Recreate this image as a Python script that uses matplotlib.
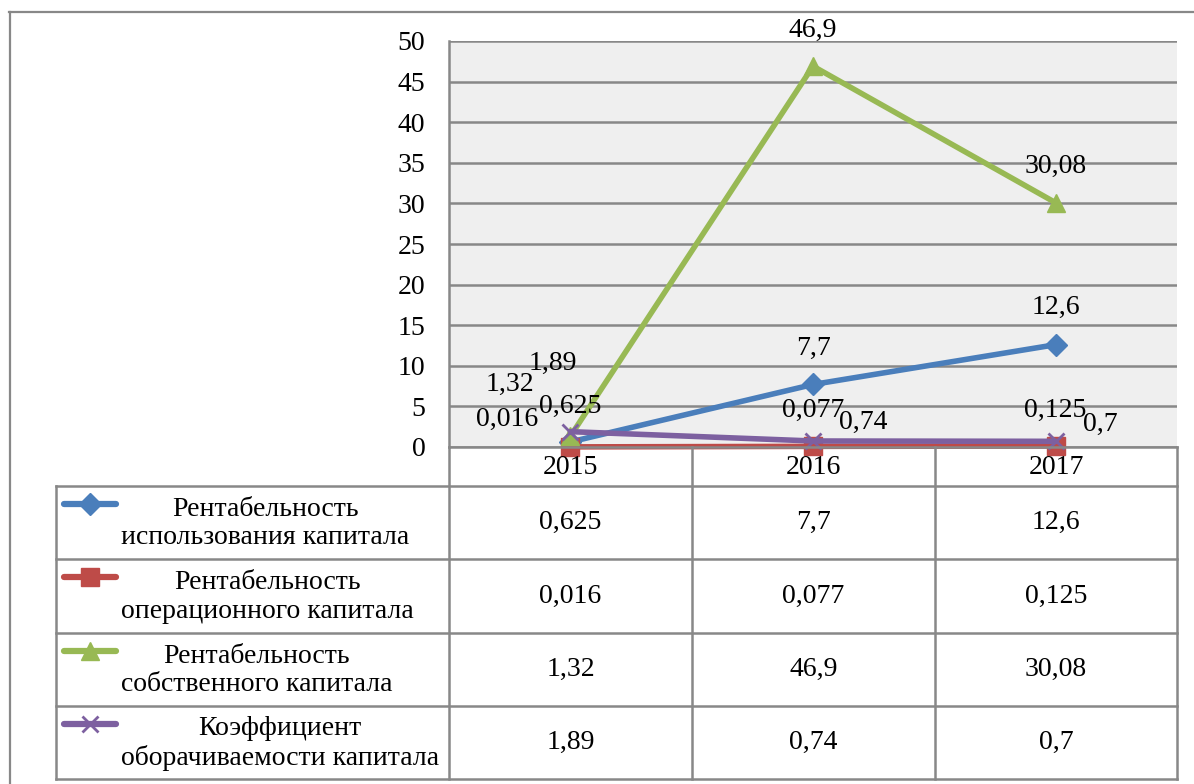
import matplotlib

matplotlib.use("Agg")
import matplotlib.pyplot as plt
from matplotlib.lines import Line2D

plt.rcParams["font.family"] = ["Liberation Serif", "DejaVu Serif"]

# ── data ────────────────────────────────────────────────────────────────
years = ["2015", "2016", "2017"]
roce = [0.625, 7.7, 12.6]          # Рентабельность использования капитала
rooc = [0.016, 0.077, 0.125]       # Рентабельность операционного капитала
roe = [1.32, 46.9, 30.08]          # Рентабельность собственного капитала
turnover = [1.89, 0.74, 0.7]       # Коэффициент оборачиваемости капитала

series_names = [
    "Рентабельность\nиспользования капитала",
    "Рентабельность\nоперационного капитала",
    "Рентабельность\nсобственного капитала",
    "Коэффициент\nоборачиваемости капитала",
]
series_vals = [roce, rooc, roe, turnover]
colors = ["#4a7ebb", "#be4b48", "#98b954", "#7d60a0"]
markers = ["D", "s", "^", "x"]
msizes = [11, 13, 13, 12]

# label offsets (pixels) per series / point, mimicking the Excel placement
label_off = [
    [(0, 36), (0, 36), (0, 37)],
    [(-63, 27), (0, 36), (0, 36)],
    [(-60, 52), (0, 36), (0, 36)],
    [(-17, 68), (50, 19), (45, 17)],
]

W, H = 1194, 784
FS = 20
GRID = "#888888"


def fx(px):
    return px / W


def fy(py):
    return 1 - py / H


def fmt(v):
    return f"{v:g}".replace(".", ",")


fig = plt.figure(figsize=(W / 100, H / 100), dpi=100)

# plot area
left, right, top, bottom = 449, 1177, 41, 447
ax = fig.add_axes([fx(left), fy(bottom), fx(right - left), (bottom - top) / H])
ax.set_facecolor("#efefef")
ax.set_xlim(-0.5, 2.5)
ax.set_ylim(0, 50)
ax.set_yticks(range(0, 51, 5))
ax.set_xticks([])
ax.yaxis.grid(True, color=GRID, lw=1.8)
ax.set_axisbelow(True)
for s in ["top", "right"]:
    ax.spines[s].set_visible(False)
ax.spines["left"].set_color(GRID)
ax.spines["left"].set_linewidth(1.8)
ax.spines["bottom"].set_color(GRID)
ax.spines["bottom"].set_linewidth(1.8)
ax.tick_params(axis="y", length=0, pad=17, labelsize=FS)

x = list(range(len(years)))
for vals, c, m, ms, offs in zip(series_vals, colors, markers, msizes, label_off):
    ax.plot(x, vals, color=c, lw=4, marker=m, ms=ms, mec=c, mfc=c,
            mew=2 if m == "x" else 1, solid_capstyle="round", clip_on=False)
    for xi, v, (dx, dy) in zip(x, vals, offs):
        ax.annotate(fmt(v), (xi, v), xytext=(dx * 0.72, dy * 0.72),
                    textcoords="offset points", ha="center", va="center",
                    fontsize=FS, annotation_clip=False)

# ── data table ──────────────────────────────────────────────────────────
col_edges = [449, 692, 935, 1177]
row_edges = [486, 559, 633, 706, 779]
leg_left = 56


def hline(y, x0, x1, lw=1.8):
    fig.add_artist(Line2D([fx(x0), fx(x1)], [fy(y), fy(y)], color=GRID, lw=lw))


def vline(x_, y0, y1, lw=1.8):
    fig.add_artist(Line2D([fx(x_), fx(x_)], [fy(y0), fy(y1)], color=GRID, lw=lw))


# header row with the years
for xe in col_edges:
    vline(xe, bottom, row_edges[-1])
for y_ in row_edges:
    hline(y_, leg_left, col_edges[-1])
vline(leg_left, row_edges[0], row_edges[-1])

for i, yr in enumerate(years):
    cx = (col_edges[i] + col_edges[i + 1]) / 2
    fig.text(fx(cx), fy(467), yr, ha="center", va="center", fontsize=FS)

for r, (name, vals, c, m, ms) in enumerate(zip(series_names, series_vals,
                                               colors, markers, msizes)):
    y0, y1 = row_edges[r], row_edges[r + 1]
    cy = (y0 + y1) / 2
    # legend key
    ky = y0 + 18
    fig.add_artist(Line2D([fx(64), fx(116)], [fy(ky), fy(ky)], color=c, lw=4.5,
                          solid_capstyle="round"))
    fig.add_artist(Line2D([fx(90)], [fy(ky)], color=c, marker=m, ms=ms,
                          mfc=c, mec=c, mew=2 if m == "x" else 1, lw=0))
    fig.text(fx(121), fy(cy + 1), name, ha="left", va="center", fontsize=FS,
             linespacing=1.2, multialignment="center")
    for i, v in enumerate(vals):
        cx = (col_edges[i] + col_edges[i + 1]) / 2
        fig.text(fx(cx), fy(cy), fmt(v), ha="center", va="center", fontsize=FS)

# outer frame (top and left only are visible)
hline(12, 9, W, lw=1.6)
vline(10, 12, H, lw=1.6)

fig.savefig("out.png", dpi=100)
plt.close(fig)
